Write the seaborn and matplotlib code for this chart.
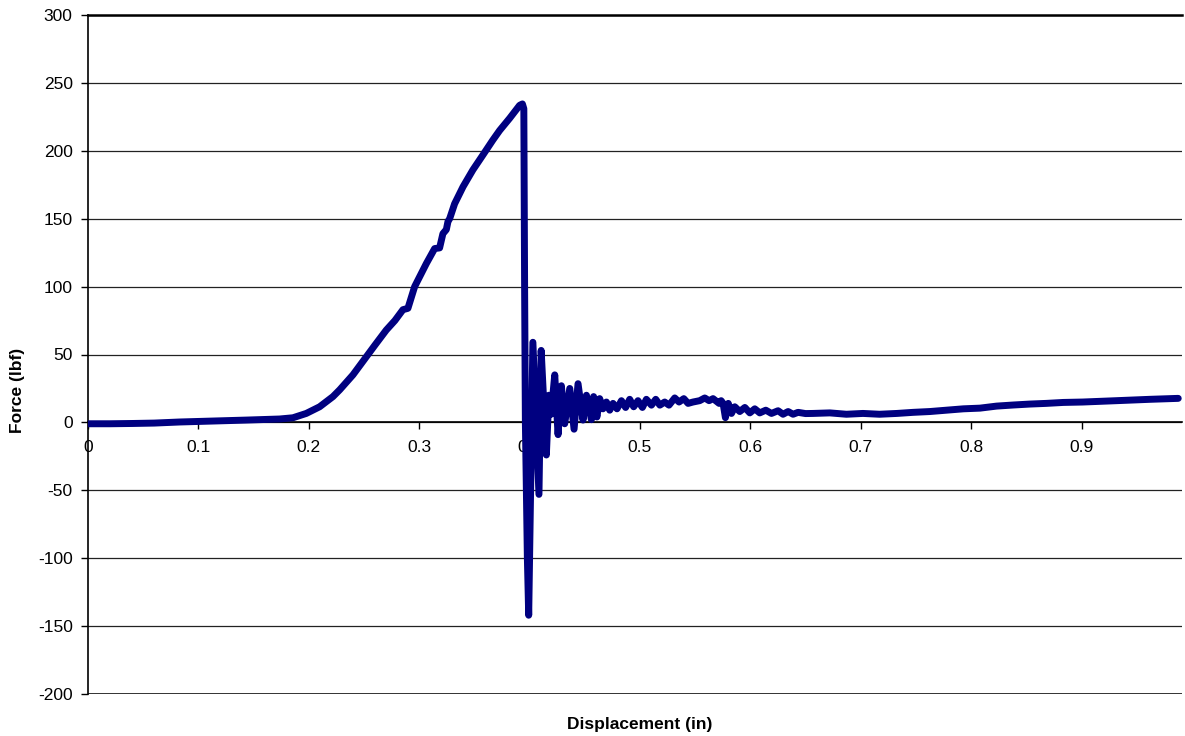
import matplotlib
matplotlib.use("Agg")
import matplotlib.pyplot as plt
import seaborn as sns
import pandas as pd

displacement = [
    0.000, 0.020, 0.040, 0.060, 0.083, 0.113, 0.143, 0.1735, 0.1856, 0.1977,
    0.2098, 0.2219, 0.228, 0.240, 0.250, 0.260, 0.2702, 0.2780, 0.2853, 0.2898,
    0.2959, 0.3065, 0.3140, 0.3185, 0.3215, 0.3246, 0.3261, 0.3276, 0.3321, 0.3397,
    0.3487, 0.3578, 0.3668, 0.3729, 0.3820, 0.3910, 0.3935, 0.3948, 0.3955, 0.3962,
    0.3980, 0.3992, 0.4030, 0.4085, 0.4105, 0.4152, 0.4175, 0.4195, 0.4228, 0.4258,
    0.4288, 0.4318, 0.4364, 0.4403, 0.4439, 0.4484, 0.4515, 0.4560, 0.4580, 0.4610,
    0.4635, 0.4665, 0.4696, 0.4726, 0.4756, 0.4792, 0.4832, 0.4870, 0.4907, 0.4943,
    0.4982, 0.5022, 0.5058, 0.5104, 0.5143, 0.5180, 0.5224, 0.5263, 0.5315, 0.5354,
    0.5397, 0.5436, 0.5480, 0.5541, 0.5587, 0.5626, 0.5662, 0.5717, 0.5735, 0.5753,
    0.5774, 0.5800, 0.5829, 0.5859, 0.5904, 0.5950, 0.5995, 0.6040, 0.6085, 0.6140,
    0.6191, 0.6251, 0.6296, 0.6342, 0.6387, 0.6432, 0.6500, 0.6568, 0.6720, 0.6870,
    0.7020, 0.7170, 0.7328, 0.7474, 0.7626, 0.7777, 0.7930, 0.8080, 0.8230, 0.8380,
    0.8530, 0.8680, 0.8835, 0.9010, 0.9318, 0.9620, 0.9876,
]
force = [
    -1.0, -1.0, -0.8, -0.5, 0.3, 1.0, 1.7, 2.5, 3.4, 6.6,
    11.5, 19, 24, 35, 46, 57, 68, 75, 83, 84,
    100, 117, 128, 128.5, 139, 142, 148, 150, 161, 173.5,
    186, 197, 208, 215, 224, 233.5, 234.5, 231, 100, 0,
    -100, -142, 59, -53, 53, -24, 20, 6, 35, -9,
    27, -1, 25, -5, 28.5, 1.7, 20, 2, 19, 4,
    17.5, 10, 15, 9, 14, 10, 16, 11, 17, 11.5,
    16, 11, 17, 12.7, 17, 12.7, 15, 12.7, 18, 15,
    17.5, 14, 15, 16, 18, 16, 17.5, 14, 16, 14,
    3.5, 14, 6.6, 11.5, 8, 11, 7, 10, 7, 9,
    6.6, 8.6, 6, 8, 6, 7.4, 6.5, 6.6, 7, 6,
    6.6, 6, 6.6, 7.4, 8, 9, 10, 10.5, 12, 12.8,
    13.5, 14, 14.7, 15, 16, 17, 17.7,
]
x_ticks = [0, 0.1, 0.2, 0.3, 0.4, 0.5, 0.6, 0.7, 0.8, 0.9]
x_tick_labels = ["0", "0.1", "0.2", "0.3", "0.4", "0.5", "0.6", "0.7", "0.8", "0.9"]
y_ticks = [-200, -150, -100, -50, 0, 50, 100, 150, 200, 250, 300]
y_tick_labels = ["-200", "-150", "-100", "-50", "0", "50", "100", "150", "200", "250", "300"]

sns.set_theme(style="white")
plt.rcParams["font.family"] = ["Liberation Sans", "DejaVu Sans"]
plt.rcParams["axes.unicode_minus"] = False

df = pd.DataFrame({"Displacement (in)": displacement, "Force (lbf)": force})

fig = plt.figure(figsize=(11.85, 7.36), dpi=100)
ax = fig.add_axes([88 / 1185, 1 - 694 / 736, (1182 - 88) / 1185, (694 - 15) / 736])

for yv in y_ticks:
    ax.axhline(yv, color="#222222", lw=0.9, zorder=1)
ax.axhline(-200, color="black", lw=1.8, zorder=1)

sns.lineplot(data=df, x="Displacement (in)", y="Force (lbf)", sort=False,
             estimator=None, color="#000080", lw=5.0, ax=ax, zorder=3)

ax.set_xlim(0, 0.991)
ax.set_ylim(-200, 300)
ax.set_xticks(x_ticks)
ax.set_xticklabels(x_tick_labels)
ax.set_yticks(y_ticks)
ax.set_yticklabels(y_tick_labels)

ax.spines["right"].set_visible(False)
ax.spines["top"].set_visible(True)
ax.spines["top"].set_linewidth(1.8)
ax.spines["top"].set_color("black")
ax.spines["left"].set_color("black")
ax.spines["left"].set_linewidth(1.2)
ax.spines["bottom"].set_position(("data", 0))
ax.spines["bottom"].set_color("black")
ax.spines["bottom"].set_linewidth(1.2)

ax.tick_params(axis="x", direction="out", length=5, width=1, color="black",
               pad=8, labelsize=12.5, labelcolor="black", bottom=True)
ax.tick_params(axis="y", direction="out", length=5, width=1, color="black",
               pad=6, labelsize=12.5, labelcolor="black", left=True)
ax.set_xlabel("")
ax.set_ylabel("")

fig.text(640 / 1185, 1 - 724 / 736, "Displacement (in)", ha="center", va="center",
         fontsize=12.5, fontweight="bold", color="black")
fig.text(18 / 1185, 1 - 390 / 736, "Force (lbf)", ha="center", va="center",
         rotation=90, fontsize=12.5, fontweight="bold", color="black")

fig.savefig("out.png", dpi=100, facecolor="white")
